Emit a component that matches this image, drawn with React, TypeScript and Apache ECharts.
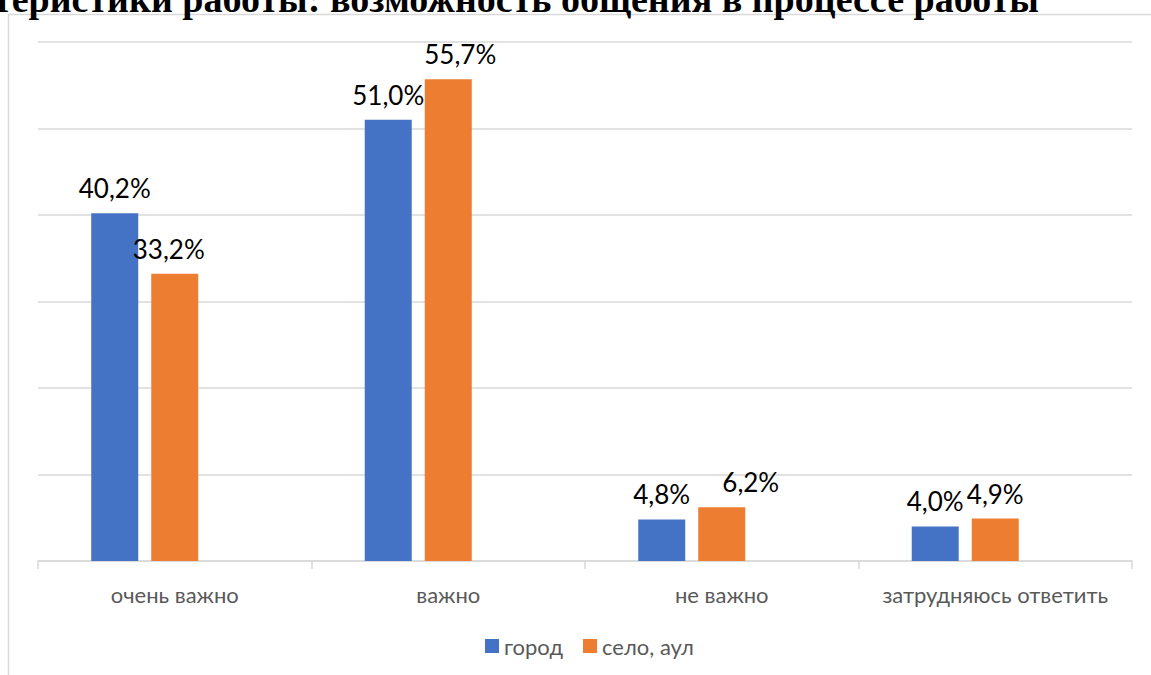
import React, { useEffect, useRef } from "react";
import * as echarts from "echarts";

const categories = ["очень важно", "важно", "не важно", "затрудняюсь ответить"];
const seriesNames = ["город", "село, аул"];
const cityValues = [40.2, 51.0, 4.8, 4.0];
const villageValues = [33.2, 55.7, 6.2, 4.9];
const titleText = "теристики работы: возможность общения в процессе работы";

// label horizontal nudges (styling only)
const cityLabelDx = [0, 0, 0, 0];
const villageLabelDx = [-6, 12, 29, 0];

const fmt = (v: number) => v.toFixed(1).replace(".", ",") + "%";

export default function App() {
  const ref = useRef<HTMLDivElement>(null);
  useEffect(() => {
    if (!ref.current) return;
    const chart = echarts.init(ref.current, undefined, { renderer: "svg" });
    const labelBase = {
      show: true,
      position: "top",
      distance: 12,
      color: "#000",
      fontFamily: "Lato",
      fontSize: 26,
      formatter: (p: any) => fmt(p.value),
    };
    chart.setOption({
      animation: false,
      backgroundColor: "#fff",
      grid: { left: 38, right: 19, top: 42, bottom: 114, containLabel: false },
      legend: {
        data: seriesNames,
        left: 480,
        top: 630,
        itemWidth: 14,
        itemHeight: 14,
        itemGap: 20,
        icon: "rect",
        textStyle: { color: "#595959", fontFamily: "Lato", fontSize: 22, padding: [0, 0, 0, 0] },
      },
      graphic: [
        {
          type: "rect",
          shape: { x: 8.5, y: 14.5, width: 1300, height: 800 },
          style: { fill: "none", stroke: "#d9d9d9", lineWidth: 1.5 },
          silent: true,
        },
        {
          type: "text",
          x: -7,
          y: -1,
          style: {
            text: titleText,
            font: "bold 38px 'Liberation Serif'",
            fill: "#000",
            verticalAlign: "middle",
            align: "left",
          },
        },
      ],
      xAxis: {
        type: "category",
        data: categories,
        axisLine: { lineStyle: { color: "#d9d9d9", width: 1.5 } },
        axisTick: { show: true, interval: 0, length: 8, lineStyle: { color: "#d9d9d9", width: 1.5 } },
        axisLabel: { interval: 0, color: "#595959", fontFamily: "Lato", fontSize: 22, margin: 22 },
      },
      yAxis: {
        type: "value",
        min: 0,
        max: 60,
        interval: 10,
        axisLabel: { show: false },
        axisLine: { show: false },
        axisTick: { show: false },
        splitLine: { lineStyle: { color: "#d9d9d9", width: 1.5 } },
      },
      series: [
        {
          name: seriesNames[0],
          type: "bar",
          barWidth: 47,
          barGap: "27.7%",
          itemStyle: { color: "#4472C4" },
          label: labelBase,
          data: cityValues.map((v, i) => ({ value: v, label: { offset: [cityLabelDx[i], 0] } })),
        },
        {
          name: seriesNames[1],
          type: "bar",
          barWidth: 47,
          barGap: "27.7%",
          itemStyle: { color: "#ED7D31" },
          label: labelBase,
          data: villageValues.map((v, i) => ({ value: v, label: { offset: [villageLabelDx[i], 0] } })),
        },
        {
          name: "_empty",
          type: "bar",
          barWidth: 47,
          barGap: "27.7%",
          data: categories.map(() => null),
        },
      ],
    });
    return () => chart.dispose();
  }, []);
  return (
    <div
      ref={ref}
      style={{ position: "fixed", left: 0, top: 0, width: 1151, height: 675, background: "#fff" }}
    />
  );
}
